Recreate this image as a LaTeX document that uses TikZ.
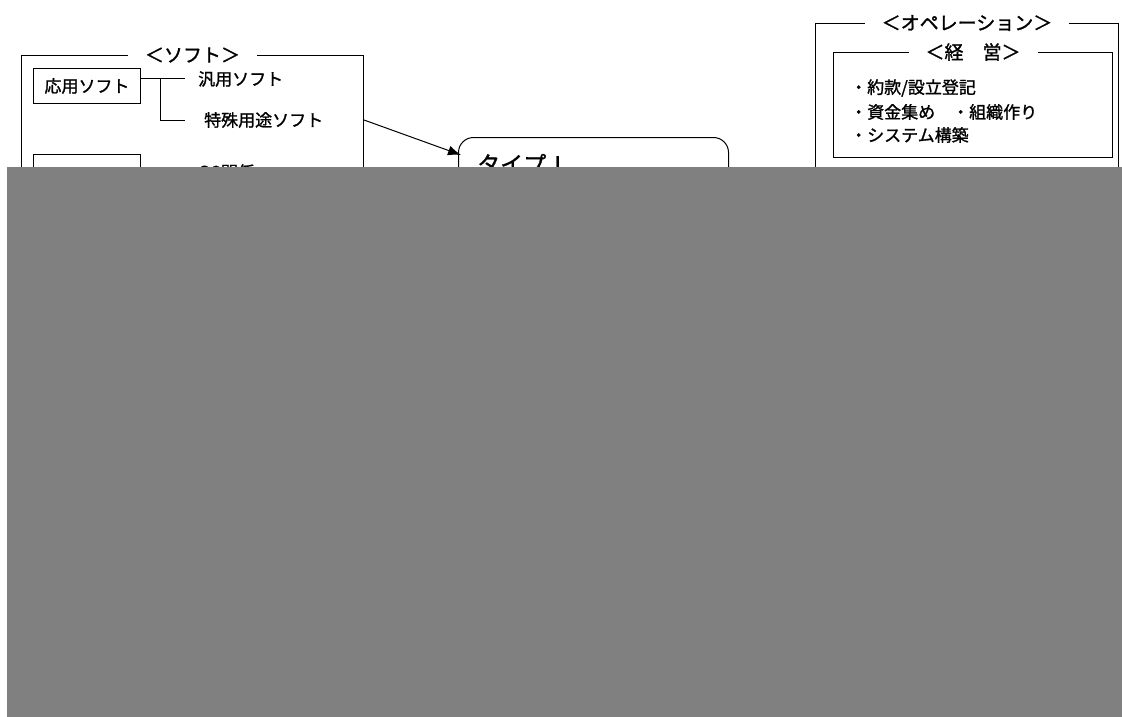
\documentclass[tikz,border=0pt]{standalone}
\usepackage{fontspec}
\setmainfont{Noto Sans CJK JP}[FakeBold=1.2]
\usetikzlibrary{arrows.meta}
\definecolor{cover}{RGB}{128,128,128}
\begin{document}
\begin{tikzpicture}[x=1pt,y=-1pt,
  frame/.style={draw, line width=1pt, inner sep=0pt, anchor=north west},
  ttl/.style={fill=white, inner xsep=17pt, inner ysep=2pt, font=\fontsize{19}{21}\selectfont},
  txt/.style={anchor=west, inner sep=0pt, font=\fontsize{17}{19}\selectfont},
  sbox/.style={draw, line width=1pt, minimum width=107pt, minimum height=35pt, inner sep=0pt, font=\fontsize{17}{19}\selectfont},
  conn/.style={line width=1pt}
]
\useasboundingbox (0,0) rectangle (1122,717);

% --- soft frame
\node[frame, minimum width=342pt, minimum height=645pt] (softframe) at (21,55) {};
\node[ttl] (softtitle) at (softframe.north) {＜ソフト＞};
\node[sbox] (appbox) at (87,86) {応用ソフト};
\node[sbox] (osbox) at (87,172) {};
\node[txt, inner xsep=13pt] (hanyo) at (185,79) {汎用ソフト};
\node[txt, inner xsep=19pt] (tokushu) at (185,120) {特殊用途ソフト};
\node[txt, inner xsep=13pt] (oskankei) at (185,172) {OS関係};
\coordinate (brk) at (160,79);
\draw[conn] ([yshift=7pt]appbox.east) -- (hanyo.west);
\draw[conn] (brk) |- (tokushu.west);

% --- type I box
\node[frame, minimum width=270pt, minimum height=300pt, rounded corners=15pt] (typeone) at (458,137) {};
\node[anchor=west, inner sep=0pt, font=\fontsize{23}{25}\selectfont] (typelabel) at (477,164) {タイプⅠ};
\draw[conn, -{Latex[length=13pt,width=10pt]}] (softframe.east |- tokushu.west) -- ([xshift=3pt,yshift=-18pt]typeone.north west);

% --- operation frame
\node[frame, minimum width=303pt, minimum height=680pt] (opframe) at (815,23) {};
\node[ttl] (optitle) at (opframe.north) {＜オペレーション＞};
\node[frame, minimum width=279pt, minimum height=105pt] (keiei) at (833,52) {};
\node[ttl] (keieititle) at (keiei.north) {＜経　営＞};
\node[txt] (l1) at (850,88) {・約款/設立登記};
\node[txt] (l2) at (850,112) {・資金集め　・組織作り};
\node[txt] (l3) at (850,135) {・システム構築};

% --- cover
\fill[cover] (7,167) rectangle (1122,717);
\end{tikzpicture}
\end{document}
